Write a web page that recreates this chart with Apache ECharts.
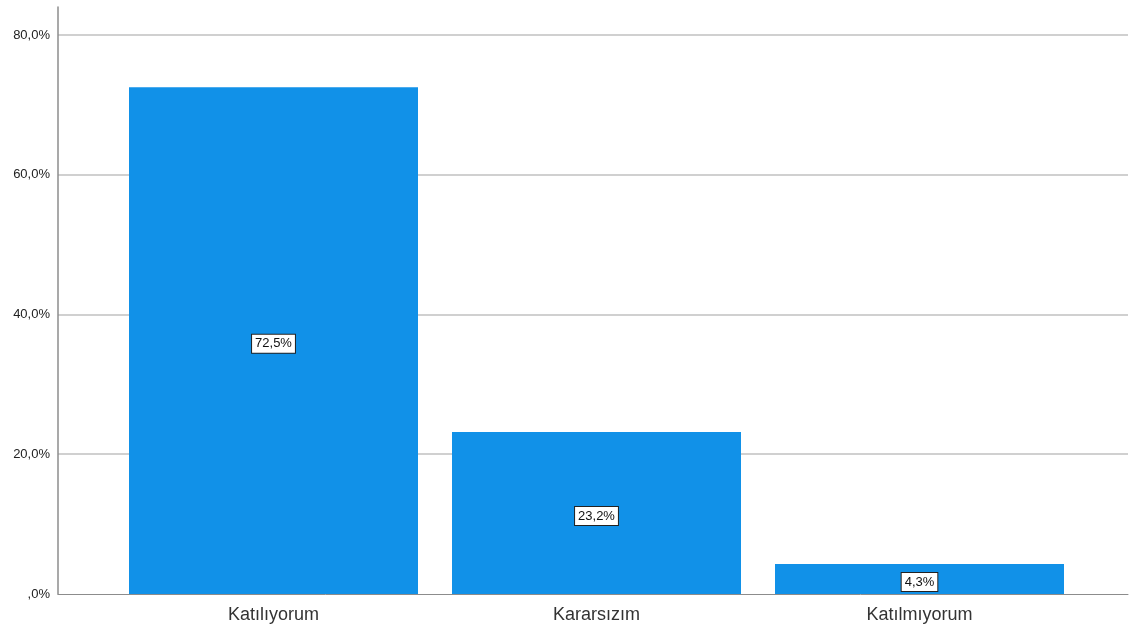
<!DOCTYPE html>
<html><head><meta charset="utf-8">
<script src="https://cdn.jsdelivr.net/npm/echarts@6/dist/echarts.min.js"></script>
<style>html,body{margin:0;padding:0;background:#fff}#c{width:1130px;height:634px}</style>
</head><body><div id="c"></div>
<script>
const categories = ['Katılıyorum', 'Kararsızım', 'Katılmıyorum'];
const values = [72.5, 23.2, 4.3];
const yTicks = [0, 20, 40, 60, 80];

function fmt(v) {
  const s = v.toFixed(1).replace('.', ',');
  return (v === 0 ? ',0' : s) + '%';
}

const chart = echarts.init(document.getElementById('c'));
const FONT = 'Liberation Sans, Arial, sans-serif';
chart.setOption({
  animation: false,
  grid: [
    {left: 58, right: 2, top: 7, bottom: 40},
    {left: 112, right: 49, top: 7, bottom: 40}
  ],
  xAxis: [
    {gridIndex: 0, type: 'value', min: 0, max: 1, show: true,
     axisLine: {show: true, lineStyle: {color: '#8c8c8c', width: 1}},
     axisTick: {show: false}, axisLabel: {show: false}, splitLine: {show: false}},
    {gridIndex: 1, type: 'category', data: categories,
     axisLine: {show: false}, axisTick: {show: false},
     axisLabel: {color: '#333', fontFamily: FONT, fontSize: 18, margin: 12}}
  ],
  yAxis: [
    {gridIndex: 0, type: 'value', min: 0, max: 84, interval: 20,
     axisLine: {show: true, lineStyle: {color: '#8c8c8c', width: 1.5}},
     axisTick: {show: false},
     axisLabel: {color: '#222', fontFamily: FONT, fontSize: 13, margin: 8, showMaxLabel: false,
       formatter: v => yTicks.includes(v) ? fmt(v) : ''},
     splitLine: {show: true, showMinLine: false, showMaxLine: false, lineStyle: {color: '#d0d0d0', width: 2}}},
    {gridIndex: 1, type: 'value', min: 0, max: 84, show: false}
  ],
  series: [{
    type: 'bar', xAxisIndex: 1, yAxisIndex: 1, data: values,
    barWidth: 289,
    itemStyle: {color: '#1191E8'},
    label: {show: true, position: 'inside', offset: [0, 3], formatter: p => fmt(p.value),
      color: '#111', fontFamily: FONT, fontSize: 13,
      backgroundColor: '#fff', borderColor: '#222', borderWidth: 1, padding: [3, 3, 2, 3]}
  }]
});
</script></body></html>
